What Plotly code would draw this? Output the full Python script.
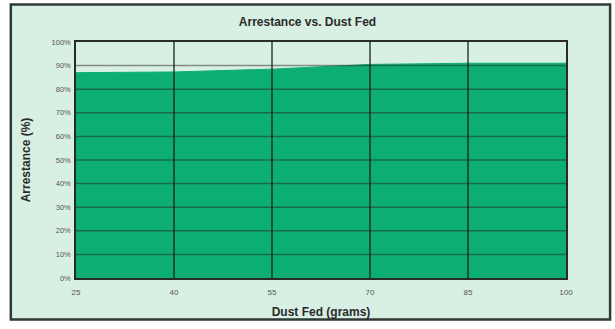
import plotly.graph_objects as go

# Arrestance measured against cumulative dust fed
dust_fed = [25, 40, 55, 70, 85, 100]
arrestance = [87, 87.3, 88.5, 90.5, 91, 91]

x_ticks = [25, 40, 55, 70, 85, 100]
y_ticks = [0, 10, 20, 30, 40, 50, 60, 70, 80, 90, 100]
y_tick_text = [f"{v}%" for v in y_ticks]

GREEN = "#0cae74"
PANEL = "#d8efe3"
TEXT = "#2b2b2b"

fig = go.Figure()
fig.add_trace(go.Scatter(
    x=dust_fed, y=arrestance, mode="lines",
    line=dict(color=GREEN, width=1),
    fill="tozeroy", fillcolor=GREEN,
    hoverinfo="x+y", showlegend=False,
))

shapes = [
    # mint panel with dark frame behind the whole chart
    dict(type="rect", xref="paper", yref="paper", layer="below",
         x0=-0.133, x1=1.090, y0=-0.176, y1=1.159,
         fillcolor=PANEL, line=dict(color="#2f3a34", width=2.5)),
]
# grid drawn over the filled area
for v in y_ticks[1:-1]:
    shapes.append(dict(type="line", xref="paper", yref="y", layer="above",
                       x0=0, x1=1, y0=v, y1=v,
                       line=dict(color="rgba(40,40,40,0.5)", width=1.5)))
for v in x_ticks[1:-1]:
    shapes.append(dict(type="line", xref="x", yref="paper", layer="above",
                       x0=v, x1=v, y0=0, y1=1,
                       line=dict(color="rgba(20,30,25,0.85)", width=1.5)))

fig.update_layout(
    width=615, height=329,
    margin=dict(l=76, r=49, t=42, b=48),
    paper_bgcolor="white",
    plot_bgcolor="white",
    shapes=shapes,
    font=dict(family="Liberation Sans, Arial, sans-serif", color=TEXT),
    title=dict(text="<b>Arrestance vs. Dust Fed</b>", x=0.5, xanchor="center",
               y=0.933, yanchor="middle", font=dict(size=12, color=TEXT)),
)
fig.update_xaxes(
    range=[25, 100], tickvals=x_ticks, ticks="", showgrid=False,
    zeroline=False, showline=True, mirror=True, linecolor="#2a2a2a", linewidth=1.5,
    tickfont=dict(size=8, color="#555"), ticklabelstandoff=6,
    title=dict(text="<b>Dust Fed (grams)</b>", font=dict(size=12, color=TEXT), standoff=11),
)
fig.update_yaxes(
    range=[0, 100], tickvals=y_ticks, ticktext=y_tick_text, ticks="", showgrid=False,
    zeroline=False, showline=True, mirror=True, linecolor="#2a2a2a", linewidth=1.5,
    tickfont=dict(size=7.5, color="#555"), ticklabelstandoff=2,
    title=dict(text="<b>Arrestance (%)</b>", font=dict(size=12, color=TEXT), standoff=18),
)

fig.write_html("out.html")
